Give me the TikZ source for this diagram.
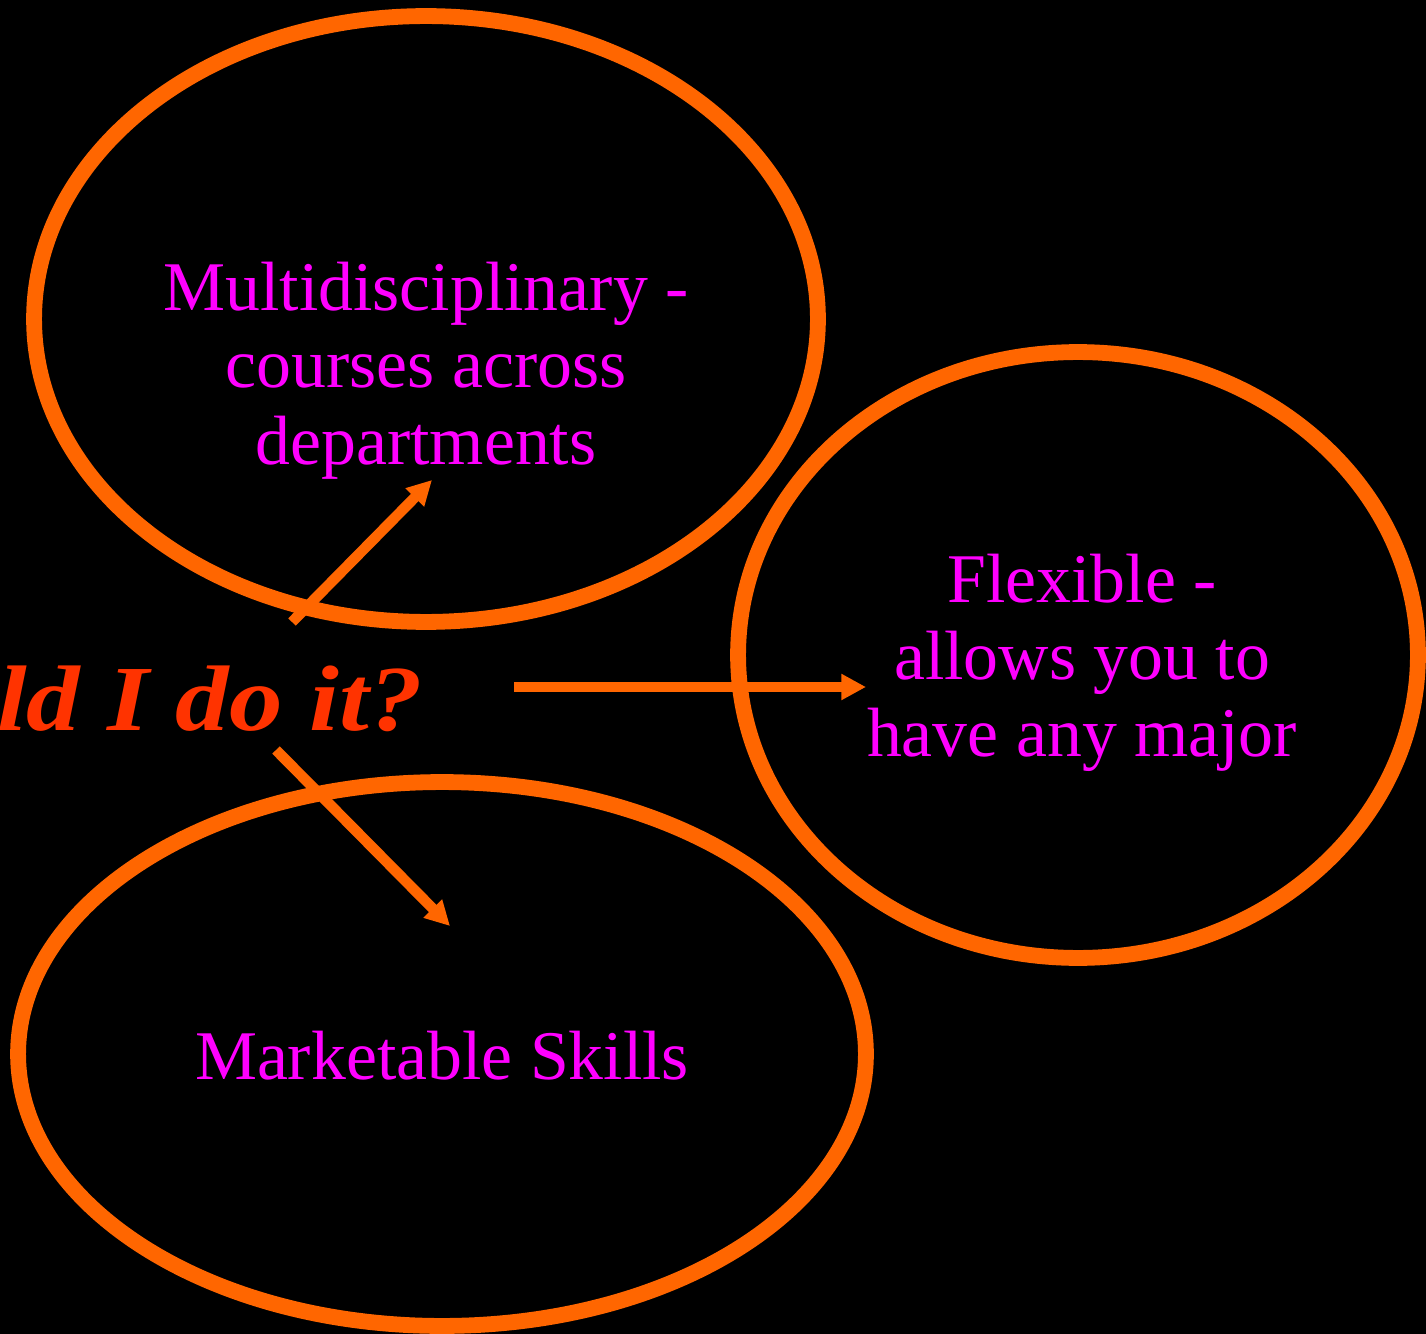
\documentclass[tikz,border=0pt]{standalone}
\usepackage{fontspec}
\setmainfont{Liberation Serif}
\usetikzlibrary{positioning,shapes.geometric,arrows.meta}

\definecolor{ringorange}{HTML}{FF6600}
\definecolor{textpink}{HTML}{FF00FF}
\definecolor{askred}{HTML}{FF3300}

\begin{document}
\begin{tikzpicture}[x=0.02cm,y=-0.02cm]
  \path[use as bounding box,fill=black] (0,0) rectangle (1426,1334);
  \begin{scope}[
    every node/.style={
      ellipse,
      draw=ringorange,
      line width=9pt,
      inner sep=0pt,
    },
    ]
    % rings
    \node [minimum width=15.68cm,minimum height=12.12cm] (multi) at (426,319) {};
    \node [minimum width=13.6cm,minimum height=12.12cm] (flex) at (1078,655) {};
    \node [minimum width=16.96cm,minimum height=10.88cm] (skills) at (442,1054) {};
  \end{scope}
  \begin{scope}[
    every node/.style={
      text=textpink,
      align=center,
      inner sep=0pt,
      font=\fontsize{39.7pt}{43.7pt}\selectfont,
    },
    ]
    % texts
    \node (multitxt) at (426,371) {Multidisciplinary -\\courses across\\departments};
    \node (flextxt) at (1082,663) {Flexible -\\allows you to\\have any major};
    \node (skilltxt) at (442,1056) {Marketable Skills};
  \end{scope}

  % question
  \node [anchor=base east,inner sep=0pt,text=askred,xscale=1.15,
    font=\fontsize{53pt}{60pt}\selectfont\bfseries\itshape] (whyq) at (423,730) {ld I do it?};

  \begin{scope}[
    myarrow/.style={
      draw=ringorange,
      line width=6pt,
      -{Triangle[length=14pt,width=14pt]},
    },
    ]
    \coordinate (upstart) at (292,622);
    \coordinate (upend) at (432,480);
    \coordinate (rightstart) at (514,687);
    \coordinate (rightend) at (866,687);
    \coordinate (downstart) at (276,750);
    \coordinate (downend) at (450,926);
    \draw [myarrow] (upstart) -- (upend);
    \draw [myarrow] (rightstart) -- (rightend);
    \draw [myarrow] (downstart) -- (downend);
  \end{scope}
\end{tikzpicture}
\end{document}
